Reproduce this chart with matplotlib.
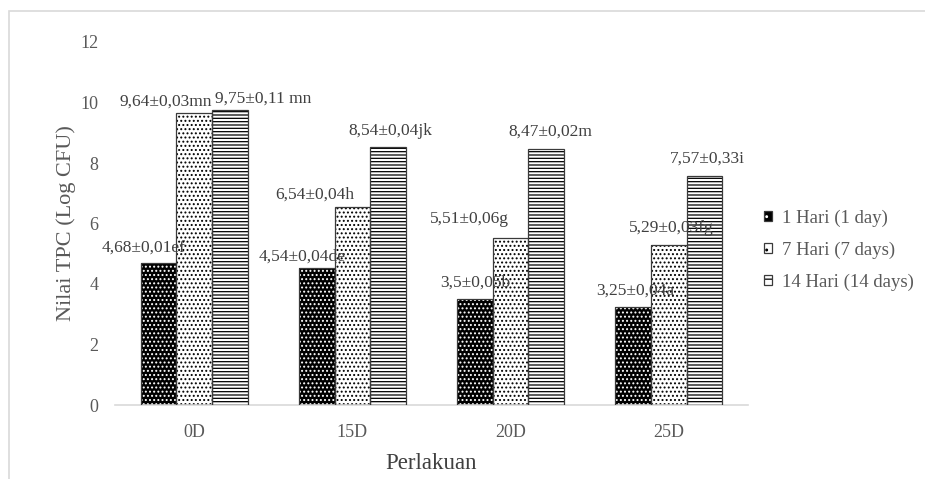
import matplotlib
matplotlib.use("Agg")
import matplotlib.pyplot as plt
import numpy as np
from matplotlib.patches import Patch, Rectangle
from matplotlib.legend_handler import HandlerTuple

plt.rcParams['font.family'] = ['Liberation Serif', 'DejaVu Serif']
plt.rcParams['hatch.linewidth'] = 0.9

# Data
categories = ["0D", "15D", "20D", "25D"]
series_names = ["1 Hari (1 day)", "7 Hari (7 days)", "14 Hari (14 days)"]
day1 = [4.68, 4.54, 3.5, 3.25]
day7 = [9.64, 6.54, 5.51, 5.29]
day14 = [9.75, 8.54, 8.47, 7.57]
sd1 = ["0,01", "0,04", "0,05", "0,04"]
sd7 = ["0,03", "0,04", "0,06", "0,03"]
sd14 = ["0,11", "0,04", "0,02", "0,33"]
letters1 = ["ef", "de", "b", "a"]
letters7 = ["mn", "h", "g", "fg"]
letters14 = [" mn", "jk", "m", "i"]
yticks = [0, 2, 4, 6, 8, 10, 12]

# Label nudges (pixels) relative to the top centre of each bar
label_dx = [[-14.5, -14.5, 0, 2], [-28.5, -38, -41.5, 2], [33.5, 2, 4, 2.5]]
label_dy = [[15, 11, 16, 16], [12, 13, 19, 17], [11, 16, 17, 17]]

W, H = 925, 479
fig = plt.figure(figsize=(W / 100, H / 100), dpi=100)
ax = fig.add_axes([115 / W, 1 - 405 / H, 633 / W, 363 / H])

text_col = "#595959"
edge_col = "#3a3a3a"
x = np.arange(len(categories))
bw = 0.2256
styles = [
    dict(fc="black", hc="white", hatch="...."),
    dict(fc="white", hc="black", hatch="...."),
    dict(fc="white", hc="black", hatch="-----"),
]
series = [day1, day7, day14]
sds = [sd1, sd7, sd14]
lets = [letters1, letters7, letters14]

handles = []
for i, (vals, st) in enumerate(zip(series, styles)):
    pos = x + (i - 1) * bw
    ax.bar(pos, vals, width=bw, color=st["fc"], edgecolor=st["hc"],
           hatch=st["hatch"], linewidth=0, zorder=2)
    ax.bar(pos, vals, width=bw, fill=False, edgecolor=edge_col,
           linewidth=0.9, zorder=3)
    for j, v in enumerate(vals):
        lbl = f"{v:g}".replace(".", ",") + "±" + sds[i][j] + lets[i][j]
        ax.annotate(lbl, xy=(pos[j], v), xytext=(label_dx[i][j] * 0.72, label_dy[i][j] * 0.72),
                    textcoords="offset points", ha="center", va="center",
                    fontsize=12.5, color="#404040", zorder=4)
    hp = Patch(facecolor=st["fc"], edgecolor=st["hc"], hatch=st["hatch"][:2], linewidth=0)
    op = Patch(fill=False, edgecolor=edge_col, linewidth=0.9)
    handles.append((hp, op))

ax.set_xlim(-0.5, len(categories) - 0.5)
ax.set_ylim(0, 12)
ax.set_yticks(yticks)
ax.set_xticks(x)
ax.set_xticklabels(categories)
ax.tick_params(axis="both", length=0, labelsize=13, colors=text_col)
ax.tick_params(axis="y", pad=12)
ax.tick_params(axis="x", pad=14)
for s in ["top", "right", "left"]:
    ax.spines[s].set_visible(False)
ax.spines["bottom"].set_color("#d9d9d9")
ax.spines["bottom"].set_linewidth(1.2)

ax.set_ylabel("Nilai TPC (Log CFU)", fontsize=16, color=text_col, labelpad=3)
ax.set_xlabel("Perlakuan", fontsize=16.5, color="#404040", labelpad=8)

leg = fig.legend(handles, series_names, handler_map={tuple: HandlerTuple(ndivide=1)},
                 loc="center left", bbox_to_anchor=(764 / W, 1 - 250 / H),
                 frameon=False, fontsize=13.5, handlelength=0.45, handleheight=0.45,
                 handletextpad=0.5, labelspacing=0.78, borderpad=0, borderaxespad=0)
for t in leg.get_texts():
    t.set_color(text_col)

# Light chart-area border (top and left edges visible)
fig.patches.append(Rectangle((9 / W, -0.2), 1.2, 1.2 - 11 / H, transform=fig.transFigure,
                             fill=False, edgecolor="#d9d9d9", linewidth=1.2, zorder=0))

fig.savefig("out.png", dpi=100)
